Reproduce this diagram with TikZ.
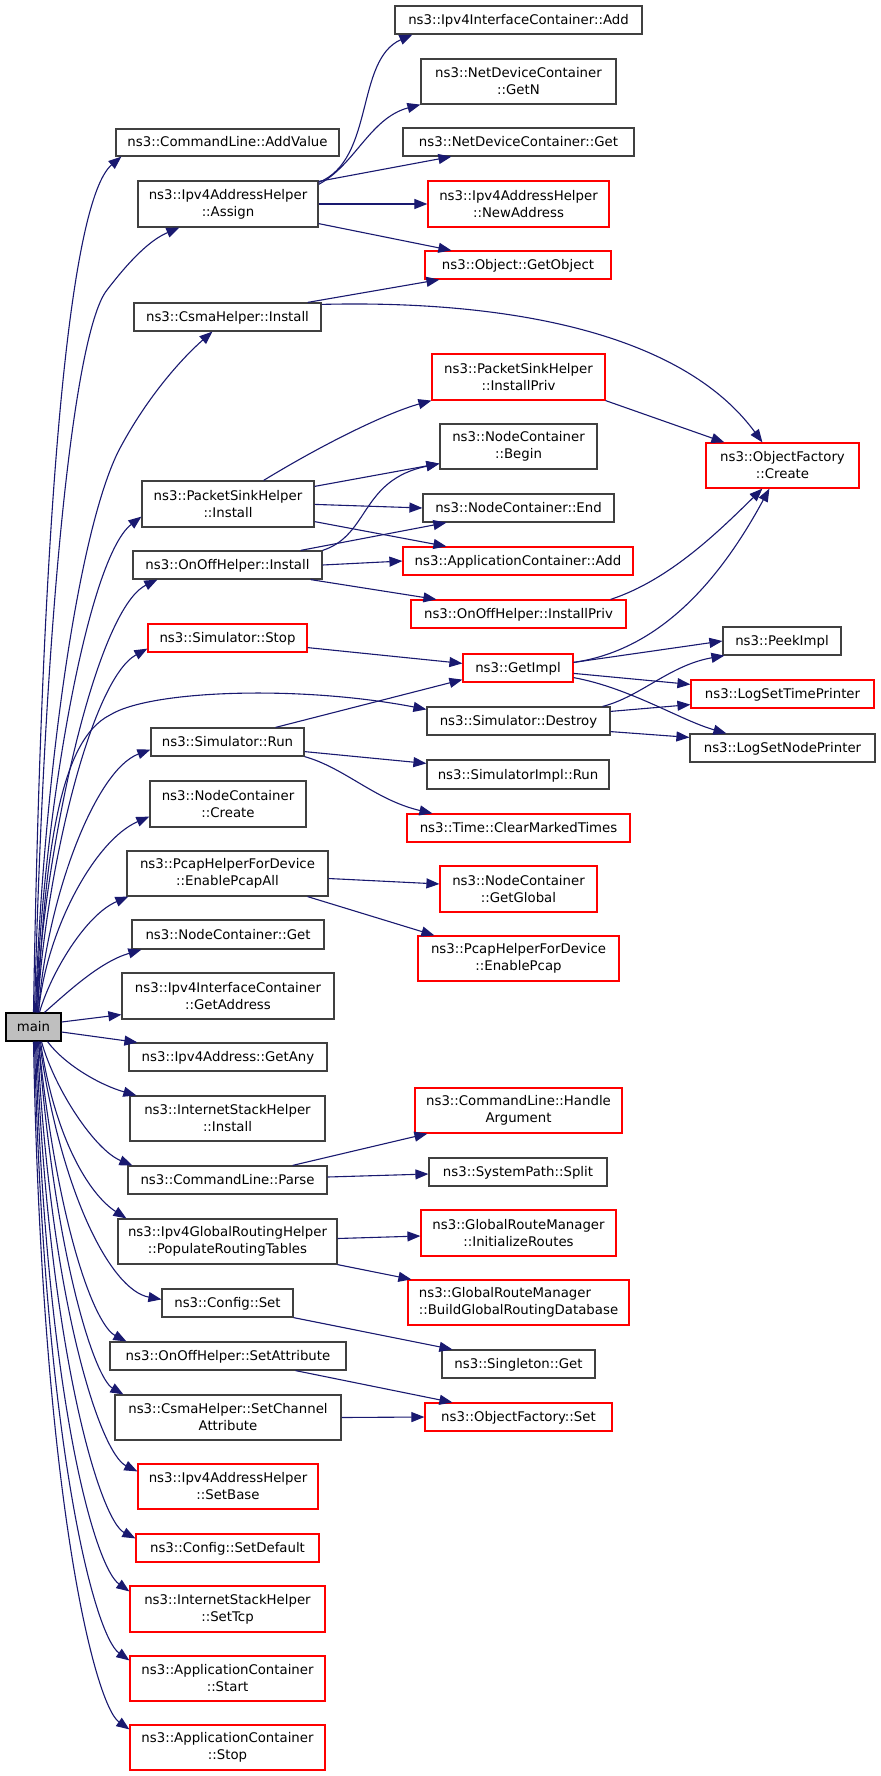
\documentclass[tikz,border=0pt]{standalone}
\usepackage{fontspec}
\setmainfont{DejaVu Sans}
\usetikzlibrary{arrows.meta}
\definecolor{edgeblue}{RGB}{25,25,112}
\definecolor{boxgray}{RGB}{64,64,64}
\definecolor{boxred}{RGB}{255,0,0}
\definecolor{mainfill}{RGB}{191,191,191}
\newcommand\NBox[7]{\node[#6, minimum width={(#4)-(#2)}, minimum height={(#5)-(#3)}] (#1) at ({((#2)+(#4))/2},{((#3)+(#5))/2}) {#7};}
\begin{document}
\begin{tikzpicture}[x=1pt,y=-1pt,
  nb/.style={draw=boxgray, line width=1.2pt, inner sep=0pt, align=center, font=\fontsize{13.3}{17}\selectfont},
  rb/.style={nb, draw=boxred},
  mb/.style={nb, fill=mainfill, draw=black},
  one/.style={text height=10pt, text depth=1pt},
  edge/.style={draw=edgeblue, line width=1.1pt, -{Triangle[length=13pt,width=10pt]}},
]
\useasboundingbox (0,0) rectangle (880,1776);
\fill[white] (0,0) rectangle (880,1776);
% left column
\NBox{main}{6}{1013}{61}{1041}{mb,one}{main}
\NBox{av}{116}{129}{339}{156}{nb,one}{ns3::CommandLine::AddValue}
\NBox{asg}{138}{181}{318}{227}{nb}{ns3::Ipv4AddressHelper\\::Assign}
\NBox{csi}{134}{303}{321}{331}{nb,one}{ns3::CsmaHelper::Install}
\NBox{psi}{142}{481}{314}{527}{nb}{ns3::PacketSinkHelper\\::Install}
\NBox{ooi}{133}{551}{322}{579}{nb,one}{ns3::OnOffHelper::Install}
\NBox{sst}{148}{624}{307}{652}{rb,one}{ns3::Simulator::Stop}
\NBox{srun}{151}{728}{304}{756}{nb,one}{ns3::Simulator::Run}
\NBox{ncc}{150}{781}{306}{827}{nb}{ns3::NodeContainer\\::Create}
\NBox{epa}{127}{851}{328}{896}{nb}{ns3::PcapHelperForDevice\\::EnablePcapAll}
\NBox{ncg}{132}{920}{324}{949}{nb,one}{ns3::NodeContainer::Get}
\NBox{gad}{122}{973}{334}{1019}{nb}{ns3::Ipv4InterfaceContainer\\::GetAddress}
\NBox{gany}{129}{1043}{327}{1071}{nb,one}{ns3::Ipv4Address::GetAny}
\NBox{isi}{130}{1096}{325}{1141}{nb}{ns3::InternetStackHelper\\::Install}
\NBox{clp}{128}{1166}{327}{1194}{nb,one}{ns3::CommandLine::Parse}
\NBox{prt}{118}{1219}{337}{1264}{nb}{ns3::Ipv4GlobalRoutingHelper\\::PopulateRoutingTables}
\NBox{cset}{162}{1289}{293}{1317}{nb,one}{ns3::Config::Set}
\NBox{ssa}{110}{1342}{346}{1370}{nb,one}{ns3::OnOffHelper::SetAttribute}
\NBox{sca}{115}{1395}{341}{1440}{nb}{ns3::CsmaHelper::SetChannel\\Attribute}
\NBox{sb}{138}{1464}{318}{1509}{rb}{ns3::Ipv4AddressHelper\\::SetBase}
\NBox{sdef}{136}{1534}{319}{1562}{rb,one}{ns3::Config::SetDefault}
\NBox{stcp}{130}{1586}{325}{1632}{rb}{ns3::InternetStackHelper\\::SetTcp}
\NBox{ast}{130}{1656}{325}{1701}{rb}{ns3::ApplicationContainer\\::Start}
\NBox{asp}{130}{1725}{325}{1770}{rb}{ns3::ApplicationContainer\\::Stop}
% middle column
\NBox{add4}{395}{6}{642}{34}{nb,one}{ns3::Ipv4InterfaceContainer::Add}
\NBox{getn}{421}{59}{616}{104}{nb}{ns3::NetDeviceContainer\\::GetN}
\NBox{ndget}{403}{128}{634}{156}{nb,one}{ns3::NetDeviceContainer::Get}
\NBox{newa}{428}{181}{609}{227}{rb}{ns3::Ipv4AddressHelper\\::NewAddress}
\NBox{gobj}{425}{251}{611}{279}{rb,one}{ns3::Object::GetObject}
\NBox{pspriv}{432}{354}{605}{400}{rb}{ns3::PacketSinkHelper\\::InstallPriv}
\NBox{ncb}{440}{424}{597}{469}{nb}{ns3::NodeContainer\\::Begin}
\NBox{nce}{423}{494}{614}{522}{nb,one}{ns3::NodeContainer::End}
\NBox{aadd}{403}{547}{633}{575}{rb,one}{ns3::ApplicationContainer::Add}
\NBox{oopriv}{411}{600}{626}{628}{rb,one}{ns3::OnOffHelper::InstallPriv}
\NBox{gimpl}{463}{654}{573}{682}{rb,one}{ns3::GetImpl}
\NBox{sdes}{427}{707}{610}{735}{nb,one}{ns3::Simulator::Destroy}
\NBox{simr}{427}{760}{609}{789}{nb,one}{ns3::SimulatorImpl::Run}
\NBox{cmt}{407}{814}{630}{842}{rb,one}{ns3::Time::ClearMarkedTimes}
\NBox{ncgg}{440}{866}{597}{912}{rb}{ns3::NodeContainer\\::GetGlobal}
\NBox{epc}{418}{936}{619}{981}{rb}{ns3::PcapHelperForDevice\\::EnablePcap}
\NBox{harg}{415}{1088}{622}{1133}{rb}{ns3::CommandLine::Handle\\Argument}
\NBox{spl}{429}{1158}{607}{1186}{nb,one}{ns3::SystemPath::Split}
\NBox{initr}{421}{1210}{616}{1256}{rb}{ns3::GlobalRouteManager\\::InitializeRoutes}
\NBox{bgrd}{408}{1280}{629}{1325}{rb,align=left}{ns3::GlobalRouteManager\\::BuildGlobalRoutingDatabase}
\NBox{sget}{442}{1350}{595}{1378}{nb,one}{ns3::Singleton::Get}
\NBox{ofs}{425}{1403}{612}{1431}{rb,one}{ns3::ObjectFactory::Set}
% right column
\NBox{ofc}{706}{443}{859}{488}{rb}{ns3::ObjectFactory\\::Create}
\NBox{peek}{723}{627}{841}{655}{nb,one}{ns3::PeekImpl}
\NBox{lstp}{691}{680}{874}{708}{rb,one}{ns3::LogSetTimePrinter}
\NBox{lsnp}{690}{734}{875}{762}{nb,one}{ns3::LogSetNodePrinter}
% main upward
\draw[edge] ([xshift=0pt]main.north) .. controls (42,500) and (70,200) .. ([xshift=6pt]av.south west);
\draw[edge] ([xshift=1pt]main.north) .. controls (45,600) and (75,330) .. (107,290) .. controls (130,260) and (150,240) .. ([xshift=42pt]asg.south west);
\draw[edge] ([xshift=2pt]main.north) .. controls (42,800) and (75,540) .. (118,452) .. controls (145,400) and (180,360) .. ([xshift=79pt]csi.south west);
\draw[edge] ([xshift=3pt]main.north) .. controls (40,840) and (85,560) .. ([yshift=11pt]psi.south west);
\draw[edge] ([xshift=3pt]main.north) .. controls (42,860) and (95,610) .. ([xshift=25pt]ooi.south west);
\draw[edge] ([xshift=4pt]main.north) .. controls (44,880) and (90,680) .. ([yshift=4pt]sst.south west);
\draw[edge] ([xshift=4pt]main.north) .. controls (45,850) and (60,740) .. (110,715) .. controls (150,690) and (300,685) .. ([yshift=-3pt]sdes.north west);
\draw[edge] ([xshift=5pt]main.north) .. controls (46,900) and (95,770) .. ([yshift=7pt]srun.south west);
\draw[edge] ([xshift=5pt]main.north) .. controls (46,930) and (95,840) .. ([yshift=11pt]ncc.south west);
\draw[edge] ([xshift=6pt]main.north) .. controls (50,975) and (85,915) .. ([xshift=2pt]epa.south west);
\draw[edge] ([xshift=11pt]main.north) .. controls (70,990) and (100,962) .. ([xshift=10pt]ncg.south west);
\draw[edge] ([yshift=5pt]main.east) -- ([yshift=5pt]gad.south west);
\draw[edge] ([yshift=-5pt]main.east) -- ([xshift=9pt]gany.north west);
% main downward
\draw[edge] ([xshift=14pt]main.south) .. controls (65,1065) and (100,1085) .. ([xshift=7pt]isi.north west);
\draw[edge] ([xshift=8pt]main.south) .. controls (55,1090) and (95,1150) .. ([xshift=5pt]clp.north west);
\draw[edge] ([xshift=7pt]main.south) .. controls (55,1140) and (90,1195) .. ([xshift=9pt]prt.north west);
\draw[edge] ([xshift=6pt]main.south) .. controls (60,1190) and (110,1290) .. ([yshift=-11pt]cset.north west);
\draw[edge] ([xshift=5pt]main.south) .. controls (58,1230) and (95,1325) .. ([xshift=17pt]ssa.north west);
\draw[edge] ([xshift=5pt]main.south) .. controls (55,1260) and (95,1378) .. ([xshift=9pt]sca.north west);
\draw[edge] ([xshift=4pt]main.south) .. controls (50,1300) and (100,1453) .. ([yshift=-8pt]sb.north west);
\draw[edge] ([xshift=3pt]main.south) .. controls (48,1350) and (100,1520) .. ([yshift=-5pt]sdef.north west);
\draw[edge] ([xshift=2pt]main.south) .. controls (46,1400) and (95,1567) .. ([yshift=-6pt]stcp.north west);
\draw[edge] ([xshift=1pt]main.south) .. controls (44,1450) and (95,1636) .. ([yshift=-5pt]ast.north west);
\draw[edge] ([xshift=0pt]main.south) .. controls (42,1500) and (95,1705) .. ([yshift=-5pt]asp.north west);
% other edges
\draw[edge] ([yshift=-2pt]asg.north east) .. controls (375,160) and (355,60) .. ([xshift=18pt]add4.south west);
\draw[edge] ([yshift=-4pt]asg.north east) .. controls (355,165) and (370,118) .. (getn.south west);
\draw[edge] ([yshift=-1pt]asg.north east) -- ([xshift=49pt]ndget.south west);
\draw[edge] (asg.east) -- (newa.west);
\draw[edge] ([yshift=4pt]asg.south east) -- ([xshift=27pt]gobj.north west);
\draw[edge] ([xshift=-14pt]csi.north east) -- ([xshift=15pt]gobj.south west);
\draw[edge] ([yshift=-2pt]csi.north east) .. controls (500,300) and (680,330) .. ([xshift=57pt]ofc.north west);
\draw[edge] ([xshift=-51pt]psi.north east) .. controls (330,440) and (390,412) .. (pspriv.south west);
\draw[edge] ([yshift=-6pt]psi.north east) -- ([yshift=6pt]ncb.south west);
\draw[edge] ([yshift=-24pt]psi.north east) -- (nce.west);
\draw[edge] ([yshift=6pt]psi.south east) -- ([xshift=44pt]aadd.north west);
\draw[edge] (ooi.north east) .. controls (370,535) and (360,480) .. ([yshift=6pt]ncb.south west);
\draw[edge] ([xshift=-22pt]ooi.north east) -- ([xshift=24pt]nce.south west);
\draw[edge] (ooi.east) -- (aadd.west);
\draw[edge] ([xshift=-12pt]ooi.south east) -- ([xshift=26pt]oopriv.north west);
\draw[edge] (pspriv.south east) -- ([xshift=19pt]ofc.north west);
\draw[edge] ([xshift=-16pt]oopriv.north east) .. controls (670,580) and (720,530) .. ([xshift=57pt]ofc.south west);
\draw[edge] ([yshift=-9pt]gimpl.north east) .. controls (660,650) and (720,580) .. ([xshift=64pt]ofc.south west);
\draw[edge] ([yshift=-9pt]gimpl.north east) -- (peek.west);
\draw[edge] ([yshift=-20pt]gimpl.north east) -- ([yshift=-5pt]lstp.north west);
\draw[edge] ([yshift=5pt]gimpl.south east) .. controls (630,688) and (680,720) .. ([xshift=37pt]lsnp.north west);
\draw[edge] ([yshift=5pt]sst.south east) -- ([yshift=-10pt]gimpl.north west);
\draw[edge] ([xshift=-29pt]srun.north east) -- ([yshift=3pt]gimpl.south west);
\draw[edge] ([yshift=5pt]srun.south east) -- ([yshift=-4pt]simr.north west);
\draw[edge] (srun.south east) .. controls (345,768) and (375,800) .. ([xshift=26pt]cmt.north west);
\draw[edge] ([xshift=-8pt]sdes.north east) .. controls (640,697) and (670,665) .. ([xshift=2pt]peek.south west);
\draw[edge] ([yshift=-5pt]sdes.north east) -- ([yshift=4pt]lstp.south west);
\draw[edge] ([yshift=4pt]sdes.south east) -- ([yshift=-4pt]lsnp.north west);
\draw[edge] ([yshift=-5pt]epa.east) -- ([yshift=5pt]ncgg.west);
\draw[edge] ([xshift=-21pt]epa.south east) -- ([xshift=17pt]epc.north west);
\draw[edge] ([xshift=-35pt]clp.north east) -- ([xshift=13pt]harg.south west);
\draw[edge] ([yshift=3pt]clp.east) -- ([yshift=-2pt]spl.west);
\draw[edge] ([yshift=3pt]prt.east) -- ([yshift=-3pt]initr.west);
\draw[edge] (prt.south east) -- ([xshift=4pt]bgrd.north west);
\draw[edge] (cset.south east) -- ([xshift=11pt]sget.north west);
\draw[edge] ([xshift=-51pt]ssa.south east) -- ([xshift=28pt]ofs.north west);
\draw[edge] (sca.east) -- (ofs.west);
\end{tikzpicture}
\end{document}
